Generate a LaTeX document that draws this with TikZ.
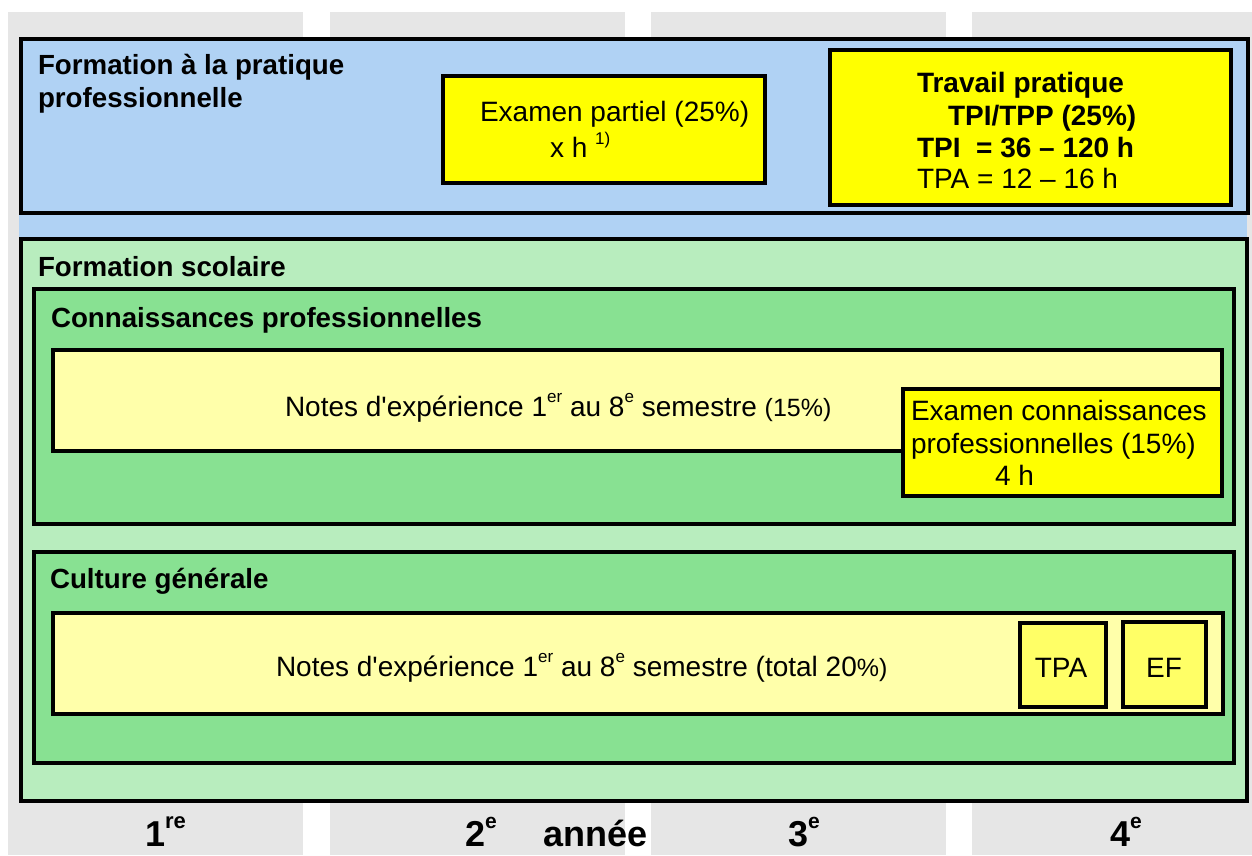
\documentclass[tikz,border=0pt]{standalone}
\usepackage{fontspec}
\setmainfont{Liberation Sans}
\usetikzlibrary{fit}
\definecolor{greycol}{HTML}{E6E6E6}
\definecolor{bluefill}{HTML}{B0D2F4}
\definecolor{greenlight}{HTML}{B8EDBE}
\definecolor{greenmid}{HTML}{88E192}
\definecolor{stripyellow}{HTML}{FFFFAA}
\definecolor{boxyellow}{HTML}{FFFF00}
\definecolor{softyellow}{HTML}{FFFF66}
\newcommand\fsz[1]{\fontsize{#1}{#1}\selectfont}
\newcommand\upr[3]{\raisebox{#1pt}{\fsz{#2}#3}}
\begin{document}
\begin{tikzpicture}[x=1pt,y=-1pt,
  fillrect/.style={inner sep=0pt, outer sep=0pt, draw=none},
  frame/.style={inner sep=0pt, outer sep=0pt, draw=black, line width=4pt},
  txt/.style={inner sep=0pt, outer sep=0pt, anchor=base west, font=\fsz{28}},
  btxt/.style={txt, font=\fsz{27.7}\bfseries},
  yeartxt/.style={inner sep=0pt, outer sep=0pt, anchor=base west, font=\fsz{36}\bfseries},
  ]
\useasboundingbox (0,0) rectangle (1252,855);
% grey year columns
\node[fillrect, fill=greycol, fit={(8,12) (303,855)}] (col1) {};
\node[fillrect, fill=greycol, fit={(330,12) (625,855)}] (col2) {};
\node[fillrect, fill=greycol, fit={(651,12) (946,855)}] (col3) {};
\node[fillrect, fill=greycol, fit={(972,12) (1252,855)}] (col4) {};
% practical training
\node[fillrect, fill=bluefill, fit={(18.5,36.5) (1247,238)}] (bluebg) {};
\node[frame, fill=bluefill, fit={(20.5,38.5) (1248,212.5)}] (pratique) {};
\node[btxt] (pratiquet1) at (38,74) {Formation à la pratique};
\node[btxt] (pratiquet2) at (38,107) {professionnelle};
\node[frame, fill=boxyellow, fit={(442.5,75.5) (764.5,182.5)}] (partiel) {};
\node[txt] (partielt1) at (480,121) {Examen partiel (25\%)};
\node[txt] (partielt2) at (550,157) {x h \upr{13}{17}{1)}};
\node[frame, fill=boxyellow, fit={(830,50) (1230.5,204.5)}] (tp) {};
\node[txt, font=\fsz{28}\bfseries] (tp1) at (917,92) {Travail pratique};
\node[txt, font=\fsz{28}\bfseries] (tp2) at (948,125) {TPI/TPP (25\%)};
\node[txt, font=\fsz{28}\bfseries] (tp3) at (917,157) {TPI\ \ = 36 – 120 h};
\node[txt] (tp4) at (917,188) {TPA = 12 – 16 h};
% school training
\node[frame, fill=greenlight, fit={(20.5,239) (1247,800.5)}] (scolaire) {};
\node[btxt] (scolairet) at (38,276) {Formation scolaire};
% professional knowledge
\node[frame, fill=greenmid, fit={(33.5,289) (1234,524)}] (cp) {};
\node[btxt] (cpt) at (51,327) {Connaissances professionnelles};
\node[frame, fill=stripyellow, fit={(53,349.5) (1222,450.5)}] (notes1) {};
\node[txt] (notes1t) at (285,416) {Notes d\textquotesingle expérience 1\upr{14}{17}{er} au 8\upr{14}{17}{e} semestre {\fsz{25}(15\%)}};
\node[frame, fill=boxyellow, fit={(902.5,388.5) (1222,495.5)}] (examcp) {};
\node[txt] (examcp1) at (911,420) {Examen connaissances};
\node[txt] (examcp2) at (911,453) {professionnelles (15\%)};
\node[txt] (examcp3) at (995,485) {4 h};
% general culture
\node[frame, fill=greenmid, fit={(33.5,551.5) (1234,763)}] (cg) {};
\node[btxt] (cgt) at (50,588) {Culture générale};
\node[frame, fill=stripyellow, fit={(53,613) (1222.5,714)}] (notes2) {};
\node[txt] (notes2t) at (276,676) {Notes d\textquotesingle expérience 1\upr{14}{17}{er} au 8\upr{14}{17}{e} semestre (total 20{\fsz{25}\%)}};
\node[frame, fill=softyellow, fit={(1019.5,623) (1106,707)}] (tpa) {};
\node[txt, anchor=base] (tpat) at (1061,677) {TPA};
\node[frame, fill=softyellow, fit={(1122.5,621.5) (1205.5,707)}] (ef) {};
\node[txt, anchor=base] (eft) at (1164,677) {EF};
% years
\node[yeartxt] (y1) at (145,846) {1\upr{18}{22}{re}};
\node[yeartxt] (y2) at (465,846) {2\upr{18}{21}{e}};
\node[yeartxt] (annee) at (543,846) {année};
\node[yeartxt] (y3) at (788,846) {3\upr{18}{21}{e}};
\node[yeartxt] (y4) at (1110,846) {4\upr{18}{21}{e}};
\end{tikzpicture}
\end{document}
